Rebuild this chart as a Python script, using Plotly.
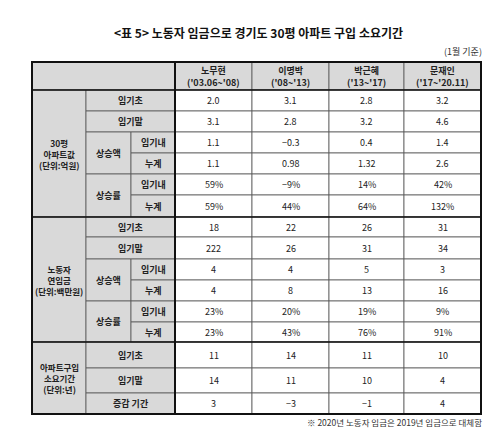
import plotly.graph_objects as go

title = "<표 5> 노동자 임금으로 경기도 30평 아파트 구입 소요기간"
note_top = "(1월 기준)"
note_bottom = "※ 2020년 노동자 임금은 2019년 임금으로 대체함"

presidents = ["노무현<br>('03.06~'08)", "이명박<br>('08~'13)",
              "박근혜<br>('13~'17)", "문재인<br>('17~'20.11)"]

apt_values = [
    ["2.0", "3.1", "2.8", "3.2"],
    ["3.1", "2.8", "3.2", "4.6"],
    ["1.1", "−0.3", "0.4", "1.4"],
    ["1.1", "0.98", "1.32", "2.6"],
    ["59%", "−9%", "14%", "42%"],
    ["59%", "44%", "64%", "132%"],
]
wage_values = [
    ["18", "22", "26", "31"],
    ["222", "26", "31", "34"],
    ["4", "4", "5", "3"],
    ["4", "8", "13", "16"],
    ["23%", "20%", "19%", "9%"],
    ["23%", "43%", "76%", "91%"],
]
buy_values = [
    ["11", "14", "11", "10"],
    ["14", "11", "10", "4"],
    ["3", "−3", "−1", "4"],
]

section_names = ["30평<br>아파트값<br>(단위:억원)", "노동자<br>연임금<br>(단위:백만원)",
                 "아파트구입<br>소요기간<br>(단위:년)"]

# geometry in pixel units
xs = [24, 78, 123, 167, 244, 321, 396, 473]
head_top, head_bot = 54, 82
row_edges = [82, 103, 124, 145, 166, 187, 209,
             229, 251, 272, 293, 314, 334,
             360, 385, 406]
GRAY = "#d9d9d9"
FONT = "Noto Sans CJK KR"

shapes = []
ann = []


def cell(x0, x1, y0, y1, fill, text=None, size=9, bold=False):
    shapes.append(dict(type="rect", x0=x0, x1=x1, y0=y0, y1=y1, fillcolor=fill,
                       line=dict(color="#555", width=0.8), layer="below"))
    if text is not None:
        ann.append(dict(x=(x0 + x1) / 2, y=(y0 + y1) / 2, text=f"<b>{text}</b>" if bold else text,
                        showarrow=False, font=dict(size=size, family=FONT, color="#222")))


# header
cell(xs[0], xs[3], head_top, head_bot, GRAY)
for i, p in enumerate(presidents):
    cell(xs[3 + i], xs[4 + i], head_top, head_bot, GRAY, p, 9, True)

data_rows = apt_values + wage_values + buy_values
for r, vals in enumerate(data_rows):
    for c, v in enumerate(vals):
        cell(xs[3 + c], xs[4 + c], row_edges[r], row_edges[r + 1], "white", v, 9)

# label columns
for s in range(2):
    base = s * 6
    cell(xs[0], xs[1], row_edges[base], row_edges[base + 6], GRAY, section_names[s], 8.5, True)
    cell(xs[1], xs[3], row_edges[base], row_edges[base + 1], GRAY, "임기초", 9, True)
    cell(xs[1], xs[3], row_edges[base + 1], row_edges[base + 2], GRAY, "임기말", 9, True)
    for k, name in enumerate(["상승액", "상승률"]):
        a = base + 2 + 2 * k
        cell(xs[1], xs[2], row_edges[a], row_edges[a + 2], GRAY, name, 9, True)
        cell(xs[2], xs[3], row_edges[a], row_edges[a + 1], GRAY, "임기내", 9, True)
        cell(xs[2], xs[3], row_edges[a + 1], row_edges[a + 2], GRAY, "누계", 9, True)
cell(xs[0], xs[1], row_edges[12], row_edges[15], GRAY, section_names[2], 8.5, True)
for k, name in enumerate(["임기초", "임기말", "증감 기간"]):
    cell(xs[1], xs[3], row_edges[12 + k], row_edges[13 + k], GRAY, name, 9, True)

# thick borders
thick = dict(color="#111", width=2)
shapes.append(dict(type="rect", x0=xs[0], x1=xs[-1], y0=head_top, y1=row_edges[-1], line=thick))
for y in [head_bot, row_edges[6], row_edges[12]]:
    shapes.append(dict(type="line", x0=xs[0], x1=xs[-1], y0=y, y1=y, line=dict(color="#111", width=1.6)))
shapes.append(dict(type="line", x0=xs[3], x1=xs[3], y0=head_top, y1=row_edges[-1], line=thick))

ann.append(dict(x=250, y=24, text=f"<b>{title}</b>", showarrow=False,
                font=dict(size=12, family=FONT, color="#111")))
ann.append(dict(x=476, y=43, text=note_top, showarrow=False, xanchor="right",
                font=dict(size=9, family=FONT, color="#333")))
ann.append(dict(x=476, y=414, text=note_bottom, showarrow=False, xanchor="right",
                font=dict(size=8.5, family=FONT, color="#333")))

fig = go.Figure()
fig.update_layout(width=500, height=433, margin=dict(l=0, r=0, t=0, b=0),
                  plot_bgcolor="white", paper_bgcolor="white",
                  shapes=shapes, annotations=ann, showlegend=False)
fig.update_xaxes(range=[0, 500], visible=False, fixedrange=True)
fig.update_yaxes(range=[433, 0], visible=False, fixedrange=True)
fig.write_html("out.html")
